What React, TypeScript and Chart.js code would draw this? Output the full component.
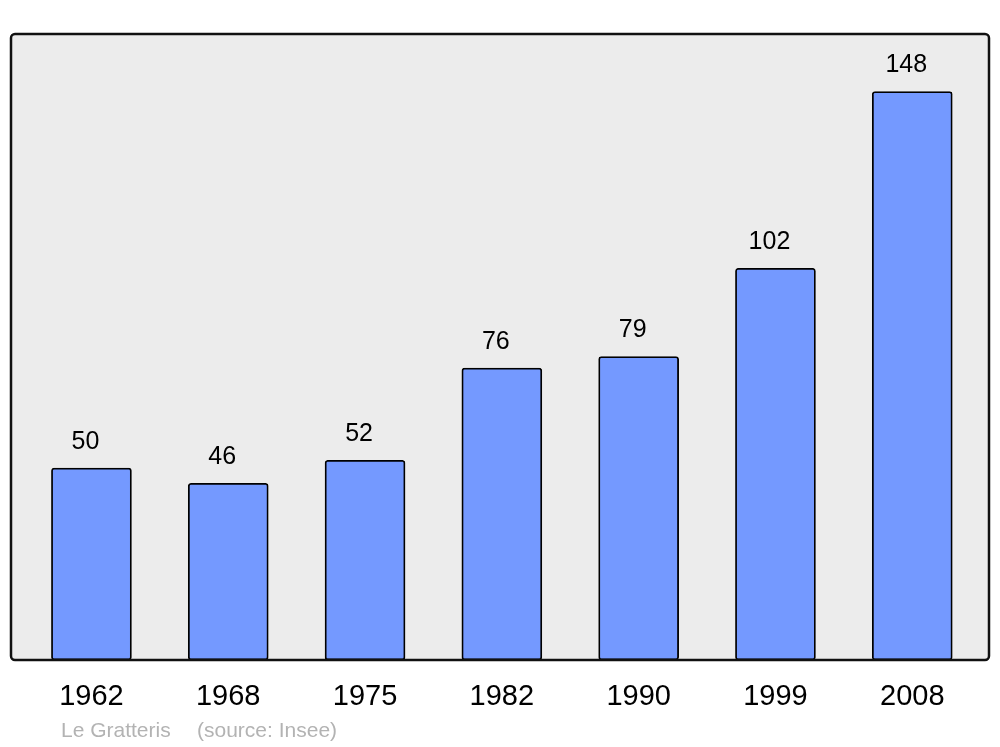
import React, { useEffect, useRef } from "react";
import { Chart, registerables } from "chart.js";

Chart.register(...registerables);

const years: string[] = ["1962", "1968", "1975", "1982", "1990", "1999", "2008"];
const population: number[] = [50, 46, 52, 76, 79, 102, 148];
const footerPlace = "Le Gratteris";
const footerSource = "(source: Insee)";

const FONT = "'Liberation Sans', Arial, sans-serif";

const framePlugin = {
  id: "frame",
  beforeDatasetsDraw(chart: any) {
    const { ctx, chartArea } = chart;
    const { left, top, right, bottom } = chartArea;
    ctx.save();
    ctx.beginPath();
    ctx.roundRect(left, top, right - left, bottom - top, 4);
    ctx.fillStyle = "#ececec";
    ctx.fill();
    ctx.restore();
  },
  afterDatasetsDraw(chart: any) {
    const { ctx, chartArea } = chart;
    const { left, top, right, bottom } = chartArea;
    ctx.save();
    ctx.beginPath();
    ctx.roundRect(left, top, right - left, bottom - top, 4);
    ctx.lineWidth = 2.5;
    ctx.strokeStyle = "#111111";
    ctx.stroke();

    // value labels
    const meta = chart.getDatasetMeta(0);
    ctx.fillStyle = "#000";
    ctx.font = `25px ${FONT}`;
    ctx.textAlign = "center";
    ctx.textBaseline = "middle";
    meta.data.forEach((el: any, i: number) => {
      ctx.fillText(String(population[i]), el.x - 6, el.y - 26);
    });

    // footer
    ctx.fillStyle = "#b3b3b3";
    ctx.font = `21px ${FONT}`;
    ctx.textAlign = "left";
    ctx.fillText(footerPlace, 61, 731);
    ctx.fillText(footerSource, 197, 731);
    ctx.restore();
  },
};

export default function App() {
  const ref = useRef<HTMLCanvasElement | null>(null);
  useEffect(() => {
    if (!ref.current) return;
    const chart = new Chart(ref.current, {
      type: "bar",
      data: {
        datasets: [
          {
            data: population.map((v, i) => ({ x: i, y: v })),
            backgroundColor: "#7499ff",
            borderColor: "#000000",
            borderWidth: 1.8,
            borderRadius: 3,
            borderSkipped: false,
            barThickness: 80,
          },
        ],
      },
      options: {
        animation: false,
        responsive: false,
        maintainAspectRatio: false,
        devicePixelRatio: 1,
        layout: { padding: { left: 11, right: 11, top: 34, bottom: 0 } },
        plugins: { legend: { display: false }, tooltip: { enabled: false } },
        scales: {
          x: {
            type: "linear",
            offset: false,
            min: -0.588,
            max: 6.561,
            grid: { display: false, offset: false },
            border: { display: false },
            afterBuildTicks: (scale: any) => {
              scale.ticks = years.map((_, i) => ({ value: i }));
            },
            afterFit: (scale: any) => {
              scale.height = 87;
            },
            ticks: {
              autoSkip: false,
              maxRotation: 0,
              padding: 12,
              color: "#000",
              font: { family: FONT, size: 29 },
              callback: (v: any) => years[v] ?? "",
            },
          },
          y: {
            display: false,
            min: 0,
            max: 163,
          },
        },
      },
      plugins: [framePlugin],
    });
    return () => chart.destroy();
  }, []);
  return (
    <div style={{ position: "fixed", left: 0, top: 0, width: 1000, height: 747, background: "#fff" }}>
      <canvas ref={ref} width={1000} height={747} style={{ display: "block" }} />
    </div>
  );
}
